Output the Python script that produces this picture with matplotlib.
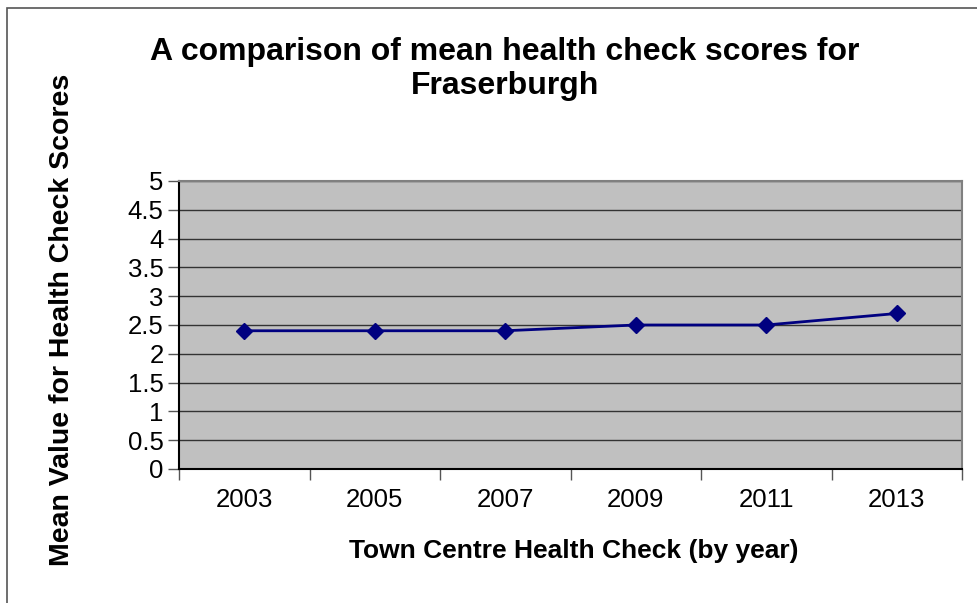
import matplotlib
matplotlib.use("Agg")
import matplotlib.pyplot as plt
from matplotlib.patches import Rectangle

years = ["2003", "2005", "2007", "2009", "2011", "2013"]
scores = [2.4, 2.4, 2.4, 2.5, 2.5, 2.7]
yticks = [0, 0.5, 1, 1.5, 2, 2.5, 3, 3.5, 4, 4.5, 5]
ytick_labels = ["0", "0.5", "1", "1.5", "2", "2.5", "3", "3.5", "4", "4.5", "5"]

plt.rcParams['font.family'] = ['Liberation Sans', 'DejaVu Sans']

W, H = 978, 603
fig = plt.figure(figsize=(W/100, H/100), dpi=100)
fig.patch.set_facecolor('white')

# outer chart border
fig.add_artist(Rectangle((7/W, -0.1), 1.2, 1 - 8/H + 0.1, transform=fig.transFigure,
                         fill=False, edgecolor='#555555', linewidth=1.2))

left, right, top, bottom = 179, 962, 181, 469
ax = fig.add_axes([left/W, 1 - bottom/H, (right-left)/W, (bottom-top)/H])
ax.set_facecolor('#C0C0C0')

x = list(range(len(years)))
ax.plot(x, scores, color='#000080', linewidth=2, marker='D', markersize=8,
        markerfacecolor='#000080', markeredgecolor='#000080', zorder=3)

ax.set_xlim(-0.5, len(years) - 0.5)
ax.set_ylim(0, 5)
ax.set_yticks(yticks)
ax.set_yticklabels(ytick_labels, fontsize=18.5)
ax.set_xticks(x)
ax.set_xticklabels(years, fontsize=18.5)
ax.tick_params(axis='x', length=0, pad=14)
ax.set_xticks([i - 0.5 for i in range(len(years) + 1)], minor=True)
ax.tick_params(axis='x', which='minor', length=8, color='#555555', width=1, direction='out')
ax.tick_params(axis='y', length=8, color='#555555', width=1, direction='out', pad=3)

for yv in yticks[1:]:
    ax.axhline(yv, color='#333333', linewidth=1, zorder=1)

for s in ['top', 'right']:
    ax.spines[s].set_color('#808080')
    ax.spines[s].set_linewidth(1.5)
ax.spines['left'].set_color('black')
ax.spines['left'].set_linewidth(1.5)
ax.spines['bottom'].set_color('black')
ax.spines['bottom'].set_linewidth(1.5)

fig.text(505/W, 1 - 69/H, "A comparison of mean health check scores for\nFraserburgh",
         ha='center', va='center', fontsize=23, fontweight='bold', linespacing=1.15)
fig.text(574/W, 1 - 551/H, "Town Centre Health Check (by year)", ha='center', va='center',
         fontsize=19, fontweight='bold')
fig.text(62/W, 1 - 320/H, "Mean Value for Health Check Scores", ha='center', va='center',
         fontsize=20.5, fontweight='bold', rotation=90)

fig.savefig("out.png", dpi=100)
